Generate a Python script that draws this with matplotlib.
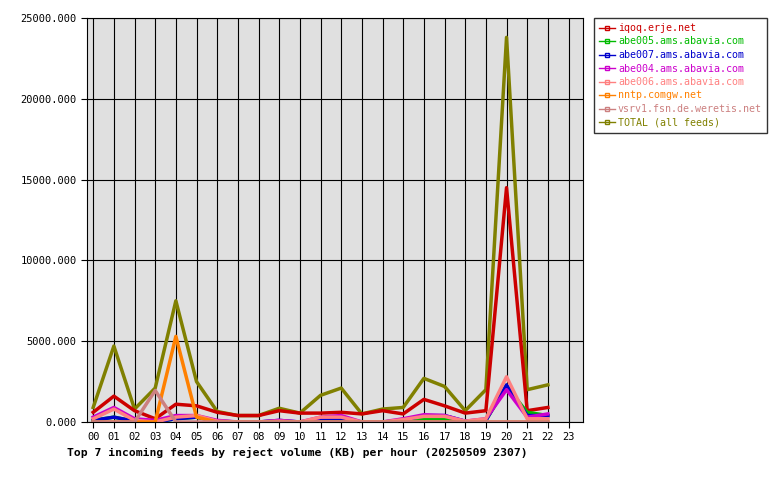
import matplotlib
matplotlib.use("Agg")
import matplotlib.pyplot as plt

hours = [f"{h:02d}" for h in range(24)]
x = list(range(23))
iqoq   = [600,1600,700,200,1100,1000,600,400,400,700,550,550,600,500,700,500,1400,1000,550,700,14500,700,900]
abe005 = [100,300,50,0,200,300,50,0,0,50,0,100,100,0,0,100,200,200,50,100,2200,600,400]
abe007 = [100,300,50,0,200,300,50,0,0,100,0,200,200,0,0,100,400,400,50,100,2300,400,400]
abe004 = [300,900,200,100,400,400,100,0,0,100,0,300,400,0,0,200,450,400,50,200,2000,300,500]
abe006 = [200,800,100,0,300,400,50,0,0,50,0,300,300,0,0,150,350,350,50,200,2800,200,200]
nntp   = [0,0,0,0,5300,300,0,0,0,0,0,0,0,0,0,0,0,0,0,0,0,0,0]
vsrv1  = [0,0,0,1950,0,0,0,0,0,0,0,0,0,0,0,0,0,0,0,0,0,0,0]
total  = [900,4700,800,2100,7500,2500,650,400,400,850,550,1650,2100,500,800,900,2700,2200,700,2000,23800,2000,2300]

series = [("iqoq.erje.net",iqoq,"#cc0000"),("abe005.ams.abavia.com",abe005,"#00bb00"),
          ("abe007.ams.abavia.com",abe007,"#0000cc"),("abe004.ams.abavia.com",abe004,"#cc00cc"),
          ("abe006.ams.abavia.com",abe006,"#ff8080"),("nntp.comgw.net",nntp,"#ff8000"),
          ("vsrv1.fsn.de.weretis.net",vsrv1,"#cc8080"),("TOTAL (all feeds)",total,"#808000")]

plt.rcParams['font.family'] = 'DejaVu Sans Mono'
fig = plt.figure(figsize=(7.8,4.8), dpi=100)
ax = fig.add_axes([87/780, 58/480, 496/780, 404/480])
ax.set_facecolor("#e0e0e0")
order = [7,0,1,2,3,4,5,6]
for i in order:
    n, v, c = series[i]
    ax.plot(x, v, color=c, lw=2.5, label=n)
ax.set_xlim(-0.3, 23.7)
ax.set_ylim(0, 25000)
ax.set_xticks(range(24))
ax.set_xticklabels(hours, fontsize=7.5)
ax.set_yticks(range(0,25001,5000))
ax.set_yticklabels([f"{v}.000" for v in range(0,25001,5000)], fontsize=7.5)
ax.grid(True, color="black", lw=0.8)
ax.set_axisbelow(True)
ax.tick_params(length=4)
fig.text(67/780, 1-452/480, "Top 7 incoming feeds by reject volume (KB) per hour (20250509 2307)",
         fontsize=8.2, fontweight="bold", va="center")
handles = [plt.Line2D([0],[0], color=c, lw=1, marker='s', markersize=3, markerfacecolor='none') for _,_,c in series]
leg = fig.legend(handles, [s[0] for s in series], loc="upper left", bbox_to_anchor=(594/780, 1-18/480),
                 fontsize=7.2, frameon=True, fancybox=False, edgecolor="black", handlelength=1.6,
                 labelspacing=0.35, borderpad=0.5, handletextpad=0.3, borderaxespad=0)
for t, (_,_,c) in zip(leg.get_texts(), series):
    t.set_color(c)
fig.savefig("out.png", dpi=100)
